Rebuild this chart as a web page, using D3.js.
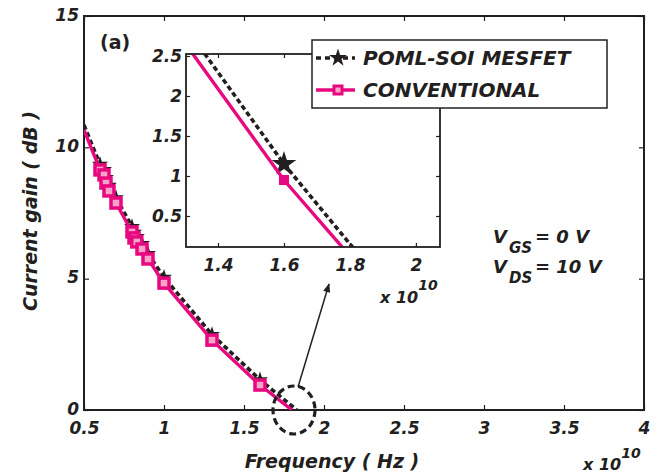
<!DOCTYPE html>
<html>
<head>
<meta charset="utf-8">
<script src="https://cdn.jsdelivr.net/npm/d3@7"></script>
<style>
  body { margin: 0; background: #fff; }
</style>
</head>
<body>
<script>
const width = 661;
const height = 475;

// Données (fréquence en unités de 1e10 Hz, gain en dB)
const freqPOML = [0.5, 0.6, 0.625, 0.6375, 0.656, 0.7, 0.8, 0.8125, 0.83, 0.8625, 0.9, 1.0, 1.3, 1.6, 1.83];
const gainPOML = [10.85, 9.35, 9.15, 8.85, 8.55, 8.08, 6.98, 6.76, 6.6, 6.33, 5.95, 5.05, 2.87, 1.15, 0];
const freqConv = [0.5, 0.6, 0.625, 0.6375, 0.656, 0.7, 0.8, 0.8125, 0.83, 0.8625, 0.9, 1.0, 1.3, 1.6, 1.8];
const gainConv = [10.66, 9.14, 8.95, 8.64, 8.34, 7.88, 6.78, 6.55, 6.4, 6.13, 5.75, 4.83, 2.66, 0.95, 0];

const xTicks = [0.5, 1, 1.5, 2, 2.5, 3, 3.5, 4];
const yTicks = [0, 5, 10, 15];
const insetXTicks = [1.4, 1.6, 1.8, 2];
const insetYTicks = [0.5, 1, 1.5, 2, 2.5];
const seriesNames = ["POML-SOI MESFET", "CONVENTIONAL"];

const pink = "#e8087f";
const lightPink = "#f6a5c8";
const ink = "#231f20";

const poml = freqPOML.map((f, i) => ({ x: f, y: gainPOML[i] }));
const conv = freqConv.map((f, i) => ({ x: f, y: gainConv[i] }));

const svg = d3.select("body").append("svg")
    .attr("width", width)
    .attr("height", height)
    .attr("font-family", "'DejaVu Sans', sans-serif")
    .attr("font-weight", "bold")
    .attr("font-style", "oblique")
    .attr("fill", ink);

// Cadre principal
const main = { left: 84, right: 644, top: 16, bottom: 410 };
const x = d3.scaleLinear().domain([0.5, 4]).range([main.left, main.right]);
const y = d3.scaleLinear().domain([0, 15]).range([main.bottom, main.top]);

svg.append("clipPath").attr("id", "clipMain")
    .append("rect")
    .attr("x", main.left).attr("y", main.top)
    .attr("width", main.right - main.left).attr("height", main.bottom - main.top);

function styleAxis(g) {
    g.attr("font-family", null).attr("font-size", null);
    g.select(".domain").remove();
    g.selectAll(".tick line").attr("stroke", ink).attr("stroke-width", 1.2);
    g.selectAll(".tick text").attr("font-size", "17px").attr("fill", ink);
}

svg.append("g")
    .attr("transform", `translate(0,${main.bottom})`)
    .call(d3.axisBottom(x).tickValues(xTicks).tickFormat(d3.format("")).tickSize(-5).tickPadding(12))
    .call(styleAxis);
svg.append("g")
    .attr("transform", `translate(0,${main.top})`)
    .call(d3.axisTop(x).tickValues(xTicks).tickFormat("").tickSize(-5))
    .call(styleAxis);
svg.append("g")
    .attr("transform", `translate(${main.left},0)`)
    .call(d3.axisLeft(y).tickValues(yTicks).tickSize(-5).tickPadding(5))
    .call(styleAxis)
    .call(g => g.selectAll(".tick text").attr("dy", "0.25em"));
svg.append("g")
    .attr("transform", `translate(${main.right},0)`)
    .call(d3.axisRight(y).tickValues(yTicks).tickFormat("").tickSize(-5))
    .call(styleAxis);

svg.append("rect")
    .attr("x", main.left).attr("y", main.top)
    .attr("width", main.right - main.left).attr("height", main.bottom - main.top)
    .attr("fill", "none").attr("stroke", ink).attr("stroke-width", 2);

// Courbes (tracé principal et encart)
function drawSeries(g, xs, ys, clipId, starSize, squareSize, squareFill, squareStroke) {
    const line = d3.line().x(d => xs(d.x)).y(d => ys(d.y));
    const body = g.append("g").attr("clip-path", `url(#${clipId})`);
    const [x0] = xs.domain();
    const [y0] = ys.domain();

    body.append("path")
        .attr("d", line(poml))
        .attr("fill", "none").attr("stroke", ink)
        .attr("stroke-width", 3.6).attr("stroke-dasharray", "5,3");
    body.selectAll("path.star")
        .data(poml.filter(d => d.x > x0 && d.y > y0))
        .enter().append("path")
        .attr("class", "star")
        .attr("transform", d => `translate(${xs(d.x)},${ys(d.y)})`)
        .attr("d", d3.symbol(d3.symbolStar, starSize))
        .attr("fill", ink);

    body.append("path")
        .attr("d", line(conv))
        .attr("fill", "none").attr("stroke", pink)
        .attr("stroke-width", 3.4);
    body.selectAll("rect.sq")
        .data(conv.filter(d => d.x > x0 && d.y > y0))
        .enter().append("rect")
        .attr("class", "sq")
        .attr("x", d => xs(d.x) - squareSize / 2)
        .attr("y", d => ys(d.y) - squareSize / 2)
        .attr("width", squareSize).attr("height", squareSize)
        .attr("fill", squareFill).attr("stroke", pink)
        .attr("stroke-width", squareStroke);
}

drawSeries(svg, x, y, "clipMain", 80, 10, lightPink, 3.5);

// Cercle pointillé et flèche vers l'encart
svg.append("ellipse")
    .attr("cx", 294).attr("cy", 410).attr("rx", 21).attr("ry", 24)
    .attr("fill", "none").attr("stroke", ink)
    .attr("stroke-width", 3.2).attr("stroke-dasharray", "7,4");

svg.append("defs").append("marker")
    .attr("id", "arrowHead")
    .attr("viewBox", "0 0 10 10")
    .attr("refX", 9).attr("refY", 5)
    .attr("markerWidth", 7).attr("markerHeight", 6)
    .attr("orient", "auto")
    .append("path").attr("d", "M0,1 L10,5 L0,9 Z").attr("fill", ink);

svg.append("line")
    .attr("x1", 298).attr("y1", 387).attr("x2", 329).attr("y2", 284)
    .attr("stroke", ink).attr("stroke-width", 1.5)
    .attr("marker-end", "url(#arrowHead)");

// Encart (zoom)
const inset = { left: 186, right: 440, top: 54, bottom: 247 };
const xi = d3.scaleLinear().domain([1.303, 2.073]).range([inset.left, inset.right]);
const yi = d3.scaleLinear().domain([0.1125, 2.525]).range([inset.bottom, inset.top]);

svg.append("rect")
    .attr("x", inset.left).attr("y", inset.top)
    .attr("width", inset.right - inset.left).attr("height", inset.bottom - inset.top)
    .attr("fill", "#fff");

svg.append("clipPath").attr("id", "clipInset")
    .append("rect")
    .attr("x", inset.left).attr("y", inset.top)
    .attr("width", inset.right - inset.left).attr("height", inset.bottom - inset.top);

drawSeries(svg, xi, yi, "clipInset", 190, 10, pink, 0);

svg.append("g")
    .attr("transform", `translate(0,${inset.bottom})`)
    .call(d3.axisBottom(xi).tickValues(insetXTicks).tickFormat(d3.format("")).tickSize(-4).tickPadding(12))
    .call(styleAxis);
svg.append("g")
    .attr("transform", `translate(0,${inset.top})`)
    .call(d3.axisTop(xi).tickValues(insetXTicks).tickFormat("").tickSize(-4))
    .call(styleAxis);
svg.append("g")
    .attr("transform", `translate(${inset.left},0)`)
    .call(d3.axisLeft(yi).tickValues(insetYTicks).tickFormat(d3.format("")).tickSize(-4).tickPadding(4))
    .call(styleAxis);
svg.append("g")
    .attr("transform", `translate(${inset.right},0)`)
    .call(d3.axisRight(yi).tickValues(insetYTicks).tickFormat("").tickSize(-4))
    .call(styleAxis);

svg.append("rect")
    .attr("x", inset.left).attr("y", inset.top)
    .attr("width", inset.right - inset.left).attr("height", inset.bottom - inset.top)
    .attr("fill", "none").attr("stroke", ink).attr("stroke-width", 1.8);

// Légende
const legend = svg.append("g");
legend.append("rect")
    .attr("x", 312).attr("y", 40).attr("width", 295).attr("height", 68)
    .attr("fill", "#fff").attr("stroke", ink).attr("stroke-width", 1.5);

const legendRows = legend.selectAll("g.row")
    .data(seriesNames)
    .enter().append("g")
    .attr("class", "row")
    .attr("transform", (d, i) => `translate(0,${i === 0 ? 58 : 90})`);

legendRows.append("line")
    .attr("x1", 316).attr("x2", 355)
    .attr("stroke", (d, i) => i === 0 ? ink : pink)
    .attr("stroke-width", 3.4)
    .attr("stroke-dasharray", (d, i) => i === 0 ? "5,4" : null);
legendRows.filter((d, i) => i === 0).append("path")
    .attr("transform", "translate(338,0)")
    .attr("d", d3.symbol(d3.symbolStar, 100))
    .attr("fill", ink);
legendRows.filter((d, i) => i === 1).append("rect")
    .attr("x", 334).attr("y", -4).attr("width", 8).attr("height", 8)
    .attr("fill", lightPink).attr("stroke", pink).attr("stroke-width", 3);
legendRows.append("text")
    .attr("x", 363).attr("dy", "0.36em")
    .attr("font-size", "20px")
    .text(d => d);

// Textes
svg.append("text").attr("x", 100).attr("y", 49).attr("font-size", "19px")
    .attr("font-style", "normal").text("(a)");

svg.append("text")
    .attr("transform", "translate(37,211) rotate(-90)")
    .attr("text-anchor", "middle").attr("font-size", "19px")
    .text("Current gain ( dB )");

svg.append("text")
    .attr("x", 332).attr("y", 468)
    .attr("text-anchor", "middle").attr("font-size", "19px")
    .text("Frequency ( Hz )");

function exponentLabel(px, py, supDy) {
    const t = svg.append("text").attr("x", px).attr("y", py).attr("font-size", "16px");
    t.append("tspan").text("x 10");
    t.append("tspan").attr("dy", supDy).attr("font-size", "14px").text("10");
}
exponentLabel(583, 470, -12);
exponentLabel(380, 303, -13);

function biasLabel(py, sub, rest, restX) {
    const t = svg.append("text").attr("y", py).attr("font-size", "18px");
    t.append("tspan").attr("x", 493).text("V");
    t.append("tspan").attr("x", 509).attr("dy", 10).attr("font-size", "15px").text(sub);
    t.append("tspan").attr("x", restX).attr("dy", -10).text(rest);
}
biasLabel(243, "GS", "= 0 V", 535);
biasLabel(273, "DS", "= 10 V", 535);
</script>
</body>
</html>
